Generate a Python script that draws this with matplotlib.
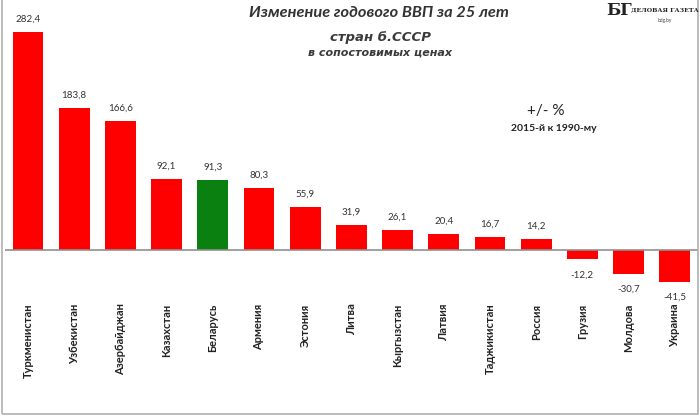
import matplotlib
matplotlib.use("Agg")
import matplotlib.pyplot as plt
from matplotlib.patches import Rectangle

countries = ["Туркменистан", "Узбекистан", "Азербайджан", "Казахстан", "Беларусь",
             "Армения", "Эстония", "Литва", "Кыргызстан", "Латвия",
             "Таджикистан", "Россия", "Грузия", "Молдова", "Украина"]
values = [282.4, 183.8, 166.6, 92.1, 91.3, 80.3, 55.9, 31.9, 26.1, 20.4,
          16.7, 14.2, -12.2, -30.7, -41.5]
highlight = "Беларусь"

plt.rcParams['font.family'] = ['Lato', 'DejaVu Sans']

fig = plt.figure(figsize=(7, 4.17), dpi=100)
ax = fig.add_axes([0.007, 0.2986, 0.99, 0.6573])

colors = ["#0a8010" if c == highlight else "#ff0000" for c in countries]
x = range(len(countries))
ax.bar(x, values, width=0.67, color=colors, zorder=2)
ax.axhline(0, color="#909090", lw=1.2, zorder=3)

# подписи значений
for i, v in zip(x, values):
    txt = f"{v:.1f}".replace(".", ",")
    if v >= 0:
        ax.annotate(txt, (i, v), xytext=(0, 6), textcoords="offset points",
                    ha="center", va="bottom", fontsize=7, color="#333333")
    else:
        ax.annotate(txt, (i, v), xytext=(0, -8), textcoords="offset points",
                    ha="center", va="top", fontsize=7, color="#333333")

ax.set_xlim(-0.5, len(countries) - 0.5)
ax.set_ylim(-55, 300)
ax.set_yticks([])
ax.set_xticks(list(x))
ax.set_xticklabels(countries, rotation=90, fontsize=8, fontweight="bold",
                   color="#222222")
ax.tick_params(axis="x", length=0, pad=8)
for s in ax.spines.values():
    s.set_visible(False)

# заголовки
fig.text(0.541, 0.968, "Изменение годового ВВП за 25 лет", ha="center", va="center",
         fontsize=11.8, fontweight="bold", style="italic", color="#333333")
fig.text(0.543, 0.911, "стран б.СССР", ha="center", va="center",
         fontsize=9.5, fontweight="bold", style="italic", color="#3a3a3a",
         family="DejaVu Sans")
fig.text(0.543, 0.875, "в сопостовимых ценах", ha="center", va="center",
         fontsize=8, fontweight="bold", style="italic", color="#3a3a3a",
         family="DejaVu Sans")

fig.text(0.779, 0.735, "+/- %", ha="center", va="center", fontsize=11,
         color="#222222")
fig.text(0.791, 0.693, "2015-й к 1990-му", ha="center", va="center", fontsize=7.5,
         fontweight="bold", color="#222222")

# логотип
fig.text(0.885, 0.975, "БГ", ha="center", va="center", fontsize=12,
         fontweight="bold", family="DejaVu Serif", color="#222222")
fig.text(0.95, 0.977, "ДЕЛОВАЯ ГАЗЕТА", ha="center", va="center", fontsize=4.5,
         fontweight="bold", family="DejaVu Serif", color="#222222")
fig.text(0.95, 0.952, "bdg.by", ha="center", va="center", fontsize=3.5,
         color="#444444")

# рамка
fig.patches.append(Rectangle((0.003, 0.008), 0.994, 1.2, transform=fig.transFigure,
                             fill=False, edgecolor="#b0b0b0", lw=1.2))

fig.savefig("out.png", dpi=100)
